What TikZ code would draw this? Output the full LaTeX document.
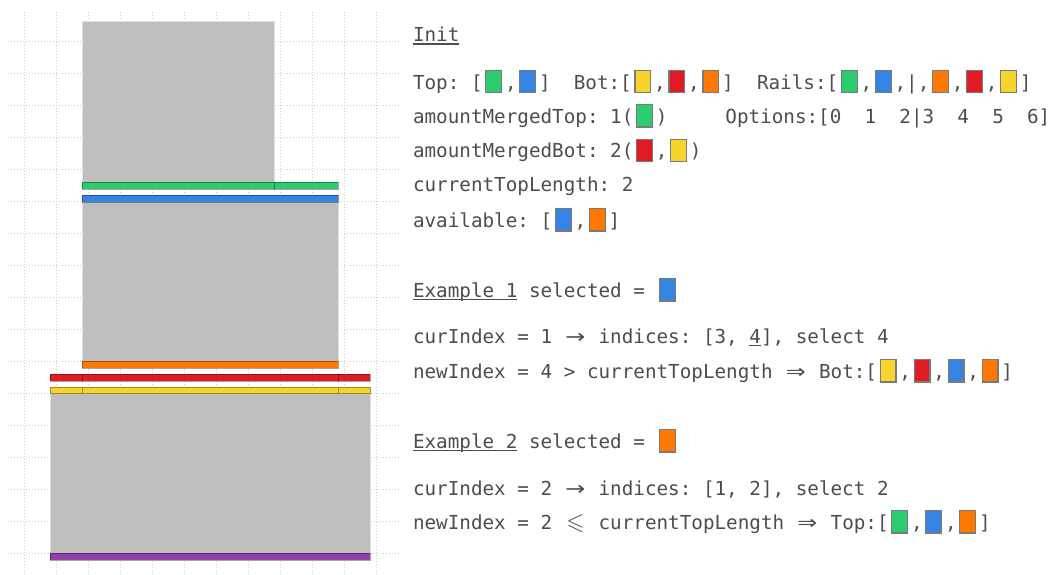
\documentclass[tikz,border=0pt]{standalone}
\usepackage{fontspec}
\usepackage{amssymb}
\usepackage{graphicx}
\setmonofont{DejaVu Sans Mono}
\newfontfamily\symfont{DejaVu Sans}
\definecolor{cg}{HTML}{2ECC71}
\definecolor{cb}{HTML}{3584E4}
\definecolor{cy}{HTML}{F6D32D}
\definecolor{cr}{HTML}{E01B24}
\definecolor{co}{HTML}{FF7800}
\definecolor{cp}{HTML}{9141AC}
\definecolor{blockgray}{HTML}{BFBFBF}
\definecolor{swb}{HTML}{7A7A7A}
\definecolor{txt}{HTML}{4D4D4D}
\newcommand\SW[1]{\makebox[22.4pt][l]{\hspace{2.6pt}\raisebox{-3pt}{\setlength\fboxsep{0pt}\setlength\fboxrule{1.2pt}\fcolorbox{swb}{#1}{\rule{0pt}{21pt}\rule{14.6pt}{0pt}}}}}
\newcommand\UL[1]{\setbox0\hbox{#1}\rlap{\rule[-2.9pt]{\wd0}{1.2pt}}\box0\relax}
\newcommand\ARR{\makebox[23.2pt]{\resizebox{20pt}{\height}{\symfont →}}}
\newcommand\DARR{\makebox[23.2pt]{\resizebox{20pt}{\height}{\symfont ⇒}}}
\newcommand\LEQ{\makebox[23.2pt]{\resizebox{!}{15pt}{$\leqslant$}}}
\tikzset{
  gridline/.style={draw=black!20, line width=0.6pt, dash pattern=on 1pt off 2pt},
  block/.style={fill=blockgray, draw=black!12, line width=0.8pt},
  rail/.style={fill=#1, draw=black, draw opacity=0.35, line width=0.8pt},
  txtline/.style={anchor=base west, inner sep=0pt, text=txt,
    font=\ttfamily\fontsize{19.27}{23}\selectfont\frenchspacing},
}
\begin{document}
\begin{tikzpicture}[x=1pt, y=-1pt]
\useasboundingbox (0,0) rectangle (1049,574);
\fill[white] (0,0) rectangle (1049,574);
% grid
\foreach \y in {41,73,...,553} \draw[gridline] (8,\y) -- (400,\y);
\foreach \x in {24,56,...,376} \draw[gridline] (\x,12) -- (\x,574);
% top block
\draw[block] (82,21) rectangle (274,182);
\draw[rail=cg] (82,182) rectangle (274,189);
\draw[rail=cg] (274,182) rectangle (338,189);
% middle block
\draw[block] (82,195) rectangle (338,361);
\draw[rail=cb] (82,195) rectangle (338,202);
\draw[rail=co] (82,361) rectangle (338,368);
% lower rails
\draw[rail=cr] (50,374) rectangle (82,381);
\draw[rail=cr] (82,374) rectangle (338,381);
\draw[rail=cr] (338,374) rectangle (370,381);
% bottom block
\draw[block] (50,387) rectangle (370,553);
\draw[rail=cy] (50,387) rectangle (82,393.5);
\draw[rail=cy] (82,387) rectangle (338,393.5);
\draw[rail=cy] (338,387) rectangle (370,393.5);
\draw[rail=cp] (50,553) rectangle (370,560);
% text
\node[txtline] (l1) at (412.8,41.7) {\UL{Init}};
\node[txtline] (l2) at (412.8,89) {Top: [\SW{cg},\SW{cb}]~~Bot:[\SW{cy},\SW{cr},\SW{co}]~~Rails:[\SW{cg},\SW{cb},|,\SW{co},\SW{cr},\SW{cy}]};
\node[txtline] (l3) at (412.8,123.3) {amountMergedTop: 1(\SW{cg})~~~~~Options:[0~~1~~2|3~~4~~5~~6]};
\node[txtline] (l4) at (412.8,157.7) {amountMergedBot: 2(\SW{cr},\SW{cy})};
\node[txtline] (l5) at (412.8,191.7) {currentTopLength: 2};
\node[txtline] (l6) at (412.8,227.3) {available: [\SW{cb},\SW{co}]};
\node[txtline] (l7) at (412.8,297.3) {\UL{Example 1} selected = \SW{cb}};
\node[txtline] (l8) at (412.8,343.3) {curIndex = 1 \ARR{} indices: [3, \UL{4}], select 4};
\node[txtline] (l9) at (412.8,378.3) {newIndex = 4 > currentTopLength \DARR{} Bot:[\SW{cy},\SW{cr},\SW{cb},\SW{co}]};
\node[txtline] (l10) at (412.8,448.3) {\UL{Example 2} selected = \SW{co}};
\node[txtline] (l11) at (412.8,495) {curIndex = 2 \ARR{} indices: [1, 2], select 2};
\node[txtline] (l12) at (412.8,529.3) {newIndex = 2 \LEQ{} currentTopLength \DARR{} Top:[\SW{cg},\SW{cb},\SW{co}]};
\end{tikzpicture}
\end{document}
